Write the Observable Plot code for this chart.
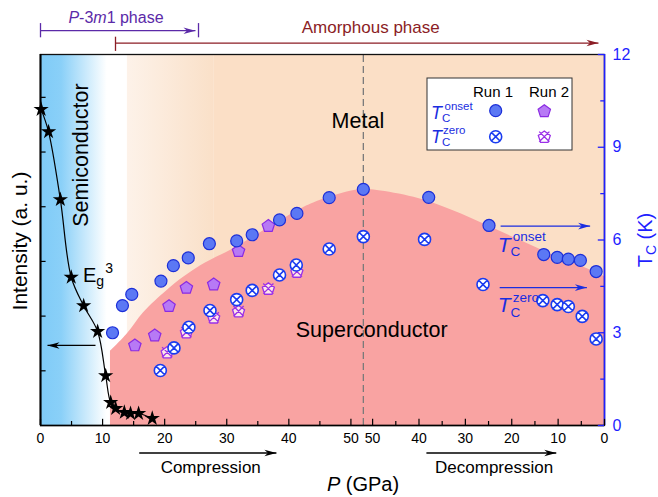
<!DOCTYPE html>
<html>
<head>
<meta charset="utf-8">
<script src="https://cdn.jsdelivr.net/npm/d3@7"></script>
<script src="https://cdn.jsdelivr.net/npm/@observablehq/plot@0.6"></script>
<style>
  body { margin: 0; background: #fff; }
  #chart { width: 658px; height: 497px; }
  text { white-space: pre; }
</style>
</head>
<body>
<div id="chart"></div>
<script>
// ---------------- data ----------------
const PMAX = 52;        // turning point (maximum pressure, GPa)
const KDEC = 0.747;     // relative width of the decompression branch of the axis

// Raman E_g^3 intensity (compression)
const starP = [0.1, 1.3, 3.2, 4.95, 6.95, 9.2, 10.5, 11.3, 12.1, 13.5, 14.5, 15.8, 18.0];
const starI = [5.78, 5.37, 4.13, 2.71, 2.19, 1.72, 0.91, 0.42, 0.31, 0.24, 0.22, 0.22, 0.13];

// Run 1, Tc onset
const r1OnCP = [11.6, 13.2, 14.7, 19.4, 21.4, 23.8, 27.2, 31.6, 34.1, 38.5, 41.3, 46.5, 52.0];
const r1OnCT = [3.00, 3.88, 4.24, 4.67, 5.17, 5.42, 5.88, 5.97, 6.17, 6.65, 6.86, 7.37, 7.64];
const r1OnDP = [37.9, 24.9, 13.1, 10.2, 7.8, 5.2, 1.8];
const r1OnDT = [7.38, 6.47, 5.53, 5.44, 5.38, 5.34, 4.98];
// Run 1, Tc zero
const r1ZeCP = [19.3, 21.5, 23.9, 27.3, 31.6, 34.1, 38.5, 41.2, 46.5, 52.0];
const r1ZeCT = [1.78, 2.51, 3.18, 3.72, 4.07, 4.37, 4.87, 5.19, 5.71, 6.11];
const r1ZeDP = [38.8, 26.2, 13.3, 10.2, 7.8, 4.8, 1.8];
const r1ZeDT = [6.02, 4.56, 4.04, 3.91, 3.85, 3.53, 2.80];
// Run 2, Tc onset / zero (compression)
const r2OnCP = [15.2, 18.4, 20.7, 23.5, 27.9, 31.9, 36.7];
const r2OnCT = [2.61, 2.93, 3.88, 4.47, 4.58, 5.66, 6.47];
const r2ZeCP = [20.4, 23.5, 27.9, 31.9, 36.7, 41.3];
const r2ZeCT = [2.37, 3.02, 3.50, 3.70, 4.43, 4.98];

// superconducting dome boundary
const scCP = [11.27, 14.0, 16.6, 20.4, 23.1, 25.8, 31.1, 36.5, 41.9, 44.0, 49.4, 52.0];
const scCT = [2.40, 2.97, 3.65, 4.37, 4.80, 5.17, 5.72, 6.36, 7.00, 7.20, 7.55, 7.63];
const scDP = [49.0, 41.1, 32.6, 25.3, 18.1, 11.0, 3.7, 0];
const scDT = [7.60, 7.38, 6.95, 6.47, 5.98, 5.50, 5.07, 4.82];

// ticks
const compTicks = [0, 10, 20, 30, 40, 50];
const compMinor = [5, 15, 25, 35, 45];
const decTicks = [50, 40, 30, 20, 10, 0];
const decMinor = [45, 35, 25, 15, 5];
const tcTicks = [0, 3, 6, 9, 12];
const tcMinor = [1.5, 4.5, 7.5, 10.5];
const intTicks = [1, 2, 3, 4, 5, 6];

// ---------------- helpers ----------------
const FONT = "'Liberation Sans', Arial, Helvetica, sans-serif";
const BLUE_AX = "#1f1fff";
const TBLUE = "#1a2de0";
const PURPLE = "#5b2aa8";
const DRED = "#8b1d25";
const uc = p => p;                           // compression branch
const ud = p => PMAX + (PMAX - p) * KDEC;    // decompression branch
const UMAX = ud(0);
const IK = 1.769;                            // K per intensity unit (left axis)
const pts = (P, T, f) => P.map((p, i) => ({u: f(p), T: T[i]}));

const stars = starP.map((p, i) => ({u: uc(p), T: starI[i] * IK}));
const r1On = [...pts(r1OnCP, r1OnCT, uc), ...pts(r1OnDP, r1OnDT, ud)];
const r1Ze = [...pts(r1ZeCP, r1ZeCT, uc), ...pts(r1ZeDP, r1ZeDT, ud)];
const r2On = pts(r2OnCP, r2OnCT, uc);
const r2Ze = pts(r2ZeCP, r2ZeCT, uc);
const scEdge = [...pts(scCP, scCT, uc), ...pts(scDP, scDT, ud)];

const bands = [
  {x1: uc(0), x2: uc(11.3), fill: "url(#gBlue)"},
  {x1: uc(14), x2: uc(28), fill: "url(#gPeach)"},
  {x1: uc(28), x2: UMAX, fill: "#fbdfc6"}
];
const xTicks = [
  ...compTicks.map(p => ({u: uc(p), label: String(p)})),
  ...decTicks.map(p => ({u: ud(p), label: String(p)}))
];
const xMinor = [...compMinor.map(uc), ...decMinor.map(ud)];

const arrows = [
  {x1: uc(8.86), x2: uc(1.13), y: 2.59, color: "#000", rot: 180},
  {x1: uc(15.9), x2: uc(38.0), y: -0.89, color: "#000", rot: 0},
  {x1: ud(38.4), x2: ud(10.4), y: -0.89, color: "#000", rot: 0},
  {x1: ud(22.4), x2: ud(3.1), y: 6.45, color: TBLUE, rot: 0},
  {x1: ud(22.6), x2: ud(3.8), y: 4.46, color: TBLUE, rot: 0},
  {x1: uc(0), x2: uc(24.96), y: 12.77, color: PURPLE, rot: 0},
  {x1: uc(12.08), x2: ud(1.3), y: 12.37, color: DRED, rot: 0}
];
const phaseTicks = [
  {u: uc(0), y: 12.77, color: PURPLE},
  {u: uc(25.45), y: 12.77, color: PURPLE},
  {u: uc(12.08), y: 12.33, color: DRED}
];

// custom symbols
const pent = {draw(ctx, size) {
  const r = Math.sqrt(size / Math.PI) * 1.05;
  for (let i = 0; i < 5; i++) {
    const a = -Math.PI / 2 + i * 2 * Math.PI / 5;
    const x = r * Math.cos(a), y = r * Math.sin(a) + r * 0.1;
    i ? ctx.lineTo(x, y) : ctx.moveTo(x, y);
  }
  ctx.closePath();
}};
const circX = {draw(ctx, size) {
  const r = Math.sqrt(size / Math.PI);
  ctx.moveTo(r, 0); ctx.arc(0, 0, r, 0, 2 * Math.PI);
  const d = r * 0.72;
  ctx.moveTo(-d, -d); ctx.lineTo(d, d);
  ctx.moveTo(d, -d); ctx.lineTo(-d, d);
}};
const pentX = {draw(ctx, size) {
  pent.draw(ctx, size);
  const r = Math.sqrt(size / Math.PI);
  const d = r * 0.85;
  ctx.moveTo(-d, -d); ctx.lineTo(d, d);
  ctx.moveTo(d, -d); ctx.lineTo(-d, d);
}};
const head = {draw(ctx) {
  ctx.moveTo(0, 0); ctx.lineTo(-12, -3.3); ctx.lineTo(-8.5, 0); ctx.lineTo(-12, 3.3); ctx.closePath();
}};

// ---------------- plot ----------------
const plot = Plot.plot({
  width: 658, height: 497,
  marginLeft: 40, marginRight: 54, marginTop: 54, marginBottom: 72,
  x: {domain: [0, UMAX], axis: null},
  y: {domain: [0, 12], axis: null},
  color: {type: "identity"},
  style: {fontFamily: FONT, background: "white", overflow: "visible"},
  marks: [
    Plot.rect(bands, {x1: "x1", x2: "x2", y1: 0, y2: 12, fill: "fill"}),
    Plot.areaY(scEdge, {x: "u", y: "T", fill: "#f9a3a2", curve: "catmull-rom"}),
    Plot.ruleX([uc(PMAX)], {y1: 0, y2: 12, stroke: "#7a7a7a", strokeDasharray: "7,4", strokeWidth: 1.3}),
    Plot.frame({stroke: "#111", strokeWidth: 1.3}),
    Plot.ruleX([0], {y1: 0, y2: 12, stroke: "#000", strokeWidth: 2}),
    Plot.ruleY([0], {x1: 0, x2: UMAX, stroke: "#000", strokeWidth: 1.6}),
    Plot.ruleX([UMAX], {y1: 0, y2: 12, stroke: BLUE_AX, strokeWidth: 1.6}),
    // bottom ticks
    Plot.ruleX(xTicks, {x: "u", y1: 0, y2: 0.2, stroke: "#000", strokeWidth: 1.2}),
    Plot.ruleX(xMinor, {x: d => d, y1: 0, y2: 0.13, stroke: "#000", strokeWidth: 1.2}),
    Plot.text(xTicks, {x: "u", text: "label", frameAnchor: "bottom", dy: 17, fontSize: 14, fill: "#000"}),
    // left ticks
    Plot.ruleY(intTicks, {y: d => d * IK, x1: 0, x2: 0.9, stroke: "#000", strokeWidth: 1.2}),
    // right ticks
    Plot.ruleY(tcTicks, {y: d => d, x1: UMAX - 1.0, x2: UMAX, stroke: BLUE_AX, strokeWidth: 1.3}),
    Plot.ruleY(tcMinor, {y: d => d, x1: UMAX - 0.6, x2: UMAX, stroke: BLUE_AX, strokeWidth: 1.3}),
    Plot.text(tcTicks, {y: d => d, text: d => String(d), frameAnchor: "right", dx: 8, textAnchor: "start", fill: BLUE_AX, fontSize: 16}),
    // Raman intensity
    Plot.line(stars, {x: "u", y: "T", stroke: "#000", strokeWidth: 1.2, curve: "catmull-rom"}),
    Plot.dot(stars, {x: "u", y: "T", symbol: "star", r: 4.8, fill: "#000", stroke: "none"}),
    // Tc data
    Plot.dot(r2Ze, {x: "u", y: "T", symbol: pentX, r: 6, stroke: "#9b30e8", fill: "white", fillOpacity: 0.75, strokeWidth: 1.3}),
    Plot.dot(r1Ze, {x: "u", y: "T", symbol: circX, r: 6, stroke: "#1a3cf0", fill: "white", strokeWidth: 1.6}),
    Plot.dot(r2On, {x: "u", y: "T", symbol: pent, r: 6.2, fill: "#b77af5", stroke: "#8a2be2", strokeWidth: 1.2}),
    Plot.dot(r1On, {x: "u", y: "T", r: 6, fill: "#5b78f4", stroke: "#1c2fd8", strokeWidth: 1.2}),
    // arrows
    Plot.ruleX(phaseTicks, {x: "u", y1: d => d.y - 0.23, y2: d => d.y + 0.23, stroke: "color", strokeWidth: 1.3}),
    Plot.link(arrows, {x1: "x1", x2: "x2", y1: "y", y2: "y", stroke: "color", strokeWidth: 1.3}),
    Plot.dot(arrows, {x: "x2", y: "y", symbol: head, r: 5, rotate: "rot", fill: "color", stroke: "none"})
  ]
});

document.getElementById("chart").appendChild(plot);

// gradients
const defs = d3.select(plot).insert("defs", ":first-child");
const gb = defs.append("linearGradient").attr("id", "gBlue").attr("x1", 0).attr("x2", 1).attr("y1", 0).attr("y2", 0);
gb.append("stop").attr("offset", 0).attr("stop-color", "#7fcbf7");
gb.append("stop").attr("offset", 0.3).attr("stop-color", "#8ad0f8");
gb.append("stop").attr("offset", 0.95).attr("stop-color", "#ffffff");
const gp = defs.append("linearGradient").attr("id", "gPeach").attr("x1", 0).attr("x2", 1).attr("y1", 0).attr("y2", 0);
gp.append("stop").attr("offset", 0).attr("stop-color", "#fdf2e9");
gp.append("stop").attr("offset", 1).attr("stop-color", "#fae0c8");

// ---------------- text annotations ----------------
const sx = plot.scale("x"), sy = plot.scale("y");
const X = u => sx.apply(u), Y = t => sy.apply(t);
const g = d3.select(plot).append("g").attr("font-family", FONT);

// parts: [string, italic, {extra tspan attributes}]
function txt(parent, x, y, parts, o = {}) {
  const t = parent.append("text").attr("x", x).attr("y", y)
    .attr("font-size", o.size || 16).attr("fill", o.fill || "#000")
    .attr("text-anchor", o.anchor || "start");
  if (o.transform) t.attr("transform", o.transform);
  (Array.isArray(parts) ? parts : [[parts]]).forEach(([s, it, extra]) => {
    const ts = t.append("tspan").text(s).attr("font-style", it ? "italic" : null);
    if (extra) Object.entries(extra).forEach(([k, v]) => ts.attr(k, v));
  });
  return t;
}
// T with stacked subscript C and superscript
function tcLabel(parent, x, y, sup, o) {
  const cw = 0.722 * o.small;
  txt(parent, x, y, [
    ["T", true],
    ["C", false, {"font-size": o.small, dy: o.sub}],
    [sup, false, {"font-size": o.small, dx: -cw + (o.supdx || 0), dy: -(o.sub + o.sup)}]
  ], {size: o.big, fill: o.fill});
}

// region labels
txt(g, 0, 0, "Semiconductor", {size: 21.5, anchor: "middle", transform: `translate(${X(uc(7.73))},${Y(8.73)}) rotate(-90)`});
txt(g, X(uc(51.2)), Y(9.6), "Metal", {size: 21.5, anchor: "middle"});
txt(g, X(ud(50.1)), Y(2.85), "Superconductor", {size: 21.5, anchor: "middle"});
// E_g^3
txt(g, X(uc(6.93)), Y(4.62), [["E"], ["g", false, {"font-size": 14, dy: 4}], ["3", false, {"font-size": 14, dx: 1, dy: -13}]], {size: 20});
// Tc labels by the blue arrows
tcLabel(g, X(ud(22.9)), Y(5.6), "onset", {big: 21, small: 13.5, sub: 4, sup: 11, supdx: 2, fill: TBLUE});
tcLabel(g, X(ud(22.9)), Y(3.66), "zero", {big: 21, small: 13.5, sub: 5, sup: 10, supdx: 2, fill: TBLUE});
// phases
txt(g, X(uc(12.24)), Y(13.0), [["P", true], ["-3"], ["m", true], ["1 phase"]], {size: 16, anchor: "middle", fill: PURPLE});
txt(g, X(ud(50.3)), Y(12.68), "Amorphous phase", {size: 17, anchor: "middle", fill: DRED});
// compression / decompression
txt(g, X(uc(27.5)), Y(-1.55), "Compression", {size: 17, anchor: "middle"});
txt(g, X(ud(23.7)), Y(-1.55), "Decompression", {size: 17, anchor: "middle"});

// axis titles
txt(g, 0, 0, "Intensity (a. u.)", {size: 21, anchor: "middle", transform: "translate(27,241) rotate(-90)"});
txt(g, 0, 0, [["T"], ["C", false, {"font-size": 14, dy: 4}], [" (K)", false, {dy: -4}]],
    {size: 20, anchor: "middle", fill: BLUE_AX, transform: "translate(652,240) rotate(-90)"});
txt(g, 363, 491, [["P", true], [" (GPa)"]], {size: 20, anchor: "middle"});

// legend
{
  const lg = g.append("g").attr("transform", "translate(427,78)");
  lg.append("rect").attr("width", 145).attr("height", 72).attr("fill", "white").attr("stroke", "#333").attr("stroke-width", 1);
  txt(lg, 66, 19, "Run 1", {size: 15, anchor: "middle"});
  txt(lg, 122, 19, "Run 2", {size: 15, anchor: "middle"});
  const sym = (type, r) => d3.symbol(type, r * r * Math.PI)();
  lg.append("path").attr("d", sym(d3.symbolCircle, 6)).attr("transform", "translate(68.7,32.7)")
    .attr("fill", "#5b78f4").attr("stroke", "#1c2fd8").attr("stroke-width", 1.2);
  lg.append("path").attr("d", sym(pent, 6.2)).attr("transform", "translate(117.3,32.7)")
    .attr("fill", "#b77af5").attr("stroke", "#8a2be2").attr("stroke-width", 1.2);
  lg.append("path").attr("d", sym(circX, 6)).attr("transform", "translate(68.7,58.7)")
    .attr("fill", "white").attr("stroke", "#1a3cf0").attr("stroke-width", 1.6);
  lg.append("path").attr("d", sym(pentX, 6)).attr("transform", "translate(117.3,58.7)")
    .attr("fill", "white").attr("stroke", "#9b30e8").attr("stroke-width", 1.3);
  tcLabel(lg, 4, 41, "onset", {big: 18, small: 11.5, sub: 2.5, sup: 9, supdx: 2.5, fill: TBLUE});
  tcLabel(lg, 4, 65, "zero", {big: 18, small: 11.5, sub: 3, sup: 9, supdx: 1, fill: TBLUE});
}
</script>
</body>
</html>
